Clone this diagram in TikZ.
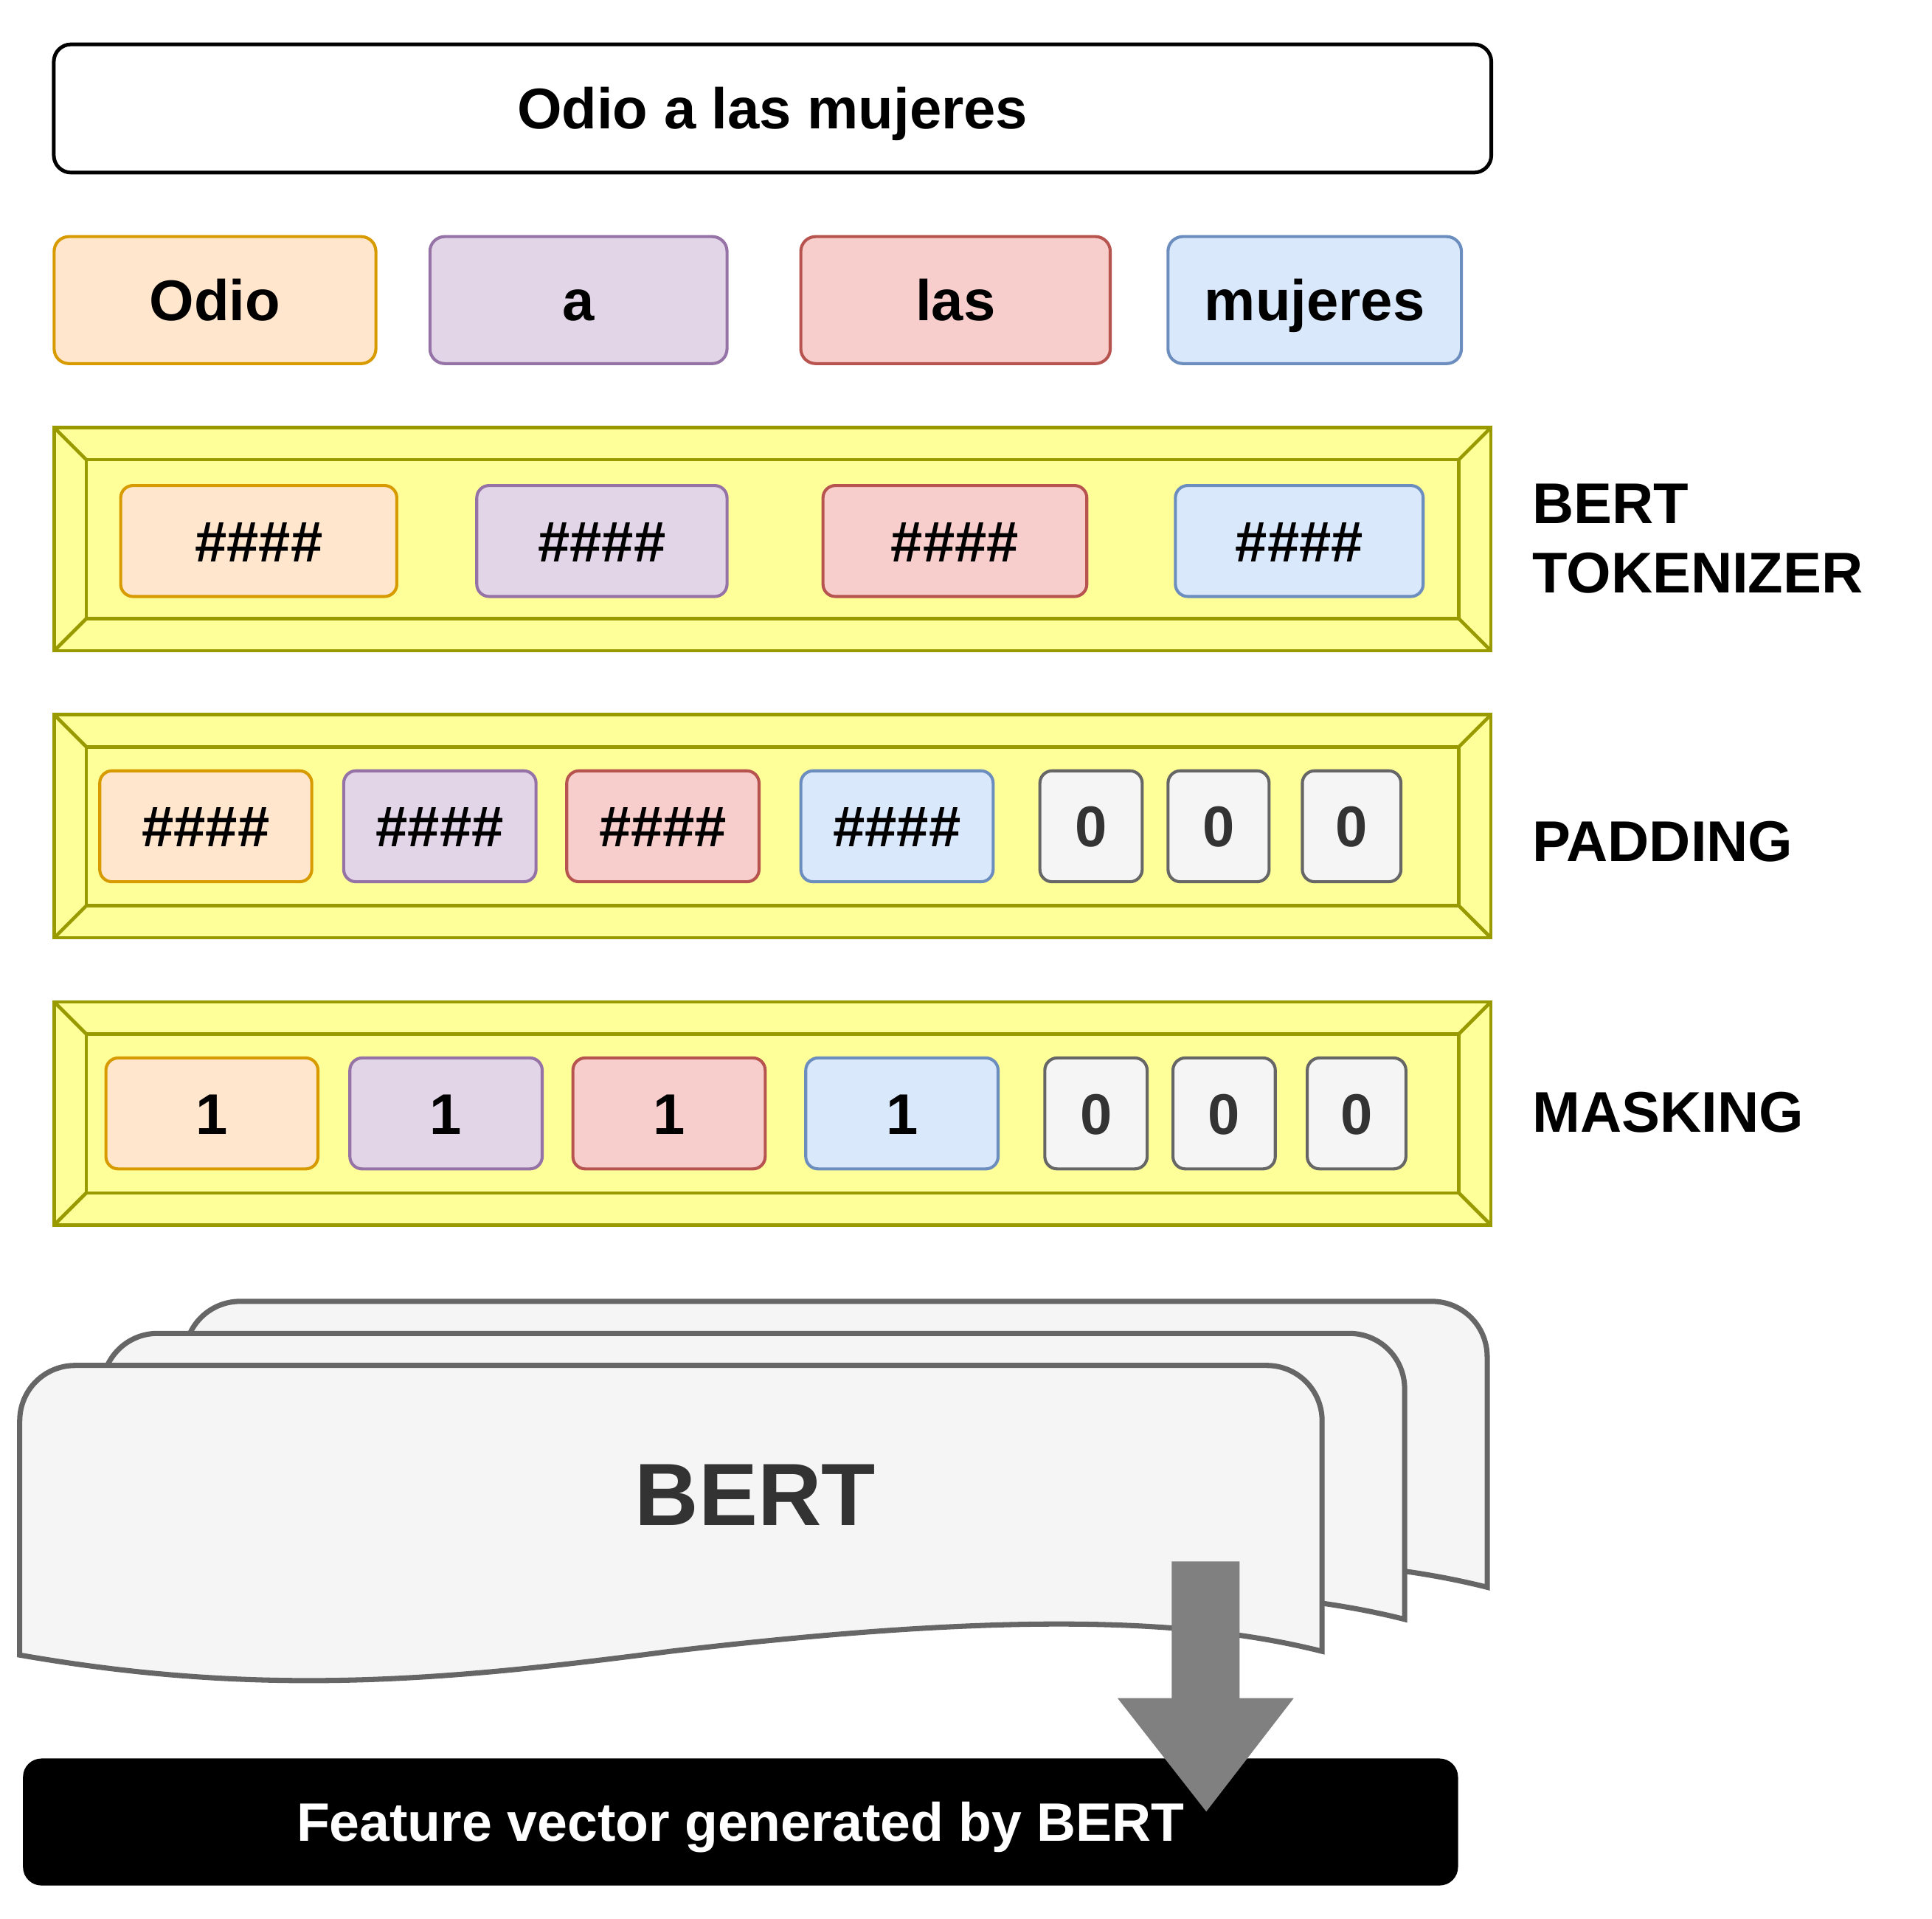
\documentclass[tikz,border=0pt]{standalone}
\usepackage{fontspec}
\setmainfont{Liberation Sans}
\usetikzlibrary{arrows.meta}

\definecolor{orgfill}{HTML}{FFE6CC}
\definecolor{orgline}{HTML}{D79B00}
\definecolor{purfill}{HTML}{E1D5E7}
\definecolor{purline}{HTML}{9673A6}
\definecolor{redfill}{HTML}{F8CECC}
\definecolor{redline}{HTML}{B85450}
\definecolor{blufill}{HTML}{DAE8FC}
\definecolor{bluline}{HTML}{6C8EBF}
\definecolor{gryfill}{HTML}{F5F5F5}
\definecolor{gryline}{HTML}{666666}
\definecolor{grytext}{HTML}{333333}
\definecolor{yelfill}{HTML}{FFFF99}
\definecolor{yelline}{HTML}{999900}
\definecolor{arrgray}{HTML}{808080}

\newcommand{\labfont}{\bfseries\fontsize{13.25}{15.9}\selectfont}

\tikzset{
  orgbox/.style={fill=orgfill, draw=orgline},
  purbox/.style={fill=purfill, draw=purline},
  redbox/.style={fill=redfill, draw=redline},
  blubox/.style={fill=blufill, draw=bluline},
  grybox/.style={fill=gryfill, draw=gryline, text=grytext},
  frame/.style={draw=yelline, line width=0.8pt},
  doc/.style={fill=gryfill, draw=gryline, line width=1.2pt}
}

\begin{document}
\begin{tikzpicture}[x=0.01cm, y=-0.01cm]
\useasboundingbox (0,0) rectangle (1568,1557.2);

\node (S) [draw=black, line width=0.85pt, rounded corners=0.14cm, minimum width=11.66cm,
           minimum height=1.04cm, font=\labfont, text height=9.5pt, text depth=0pt] at (627,88) {Odio a las mujeres};

% words
\begin{scope}[every node/.style={line width=0.7pt, rounded corners=0.12cm, minimum height=1.03cm,
              font=\labfont, text height=9.5pt, text depth=0pt}]
    \node (W1) [orgbox, minimum width=2.61cm] at (174.5,243.5) {Odio};
    \node (W2) [purbox, minimum width=2.41cm] at (469.5,243.5) {a};
    \node (W3) [redbox, minimum width=2.51cm] at (775.5,243.5) {las};
    \node (W4) [blubox, minimum width=2.38cm] at (1067,243.5) {mujeres};
\end{scope}

% bevelled frames
\foreach \t in {347,580,813} {
    \draw[frame, fill=yelfill] (44,\t) rectangle (1210,\t+181);
    \draw[frame] (70,\t+26) rectangle (1184,\t+155);
    \draw[frame] (44,\t) -- (70,\t+26) (1210,\t) -- (1184,\t+26)
                 (44,\t+181) -- (70,\t+155) (1210,\t+181) -- (1184,\t+155);
}

\begin{scope}[every node/.style={line width=0.7pt, rounded corners=0.1cm, minimum height=0.9cm,
              font=\labfont, text height=9.5pt, text depth=0pt}]
    % tokenizer
    \node (T1) [orgbox, minimum width=2.24cm] at (210,439) {\#\#\#\#};
    \node (T2) [purbox, minimum width=2.03cm] at (488.5,439) {\#\#\#\#};
    \node (T3) [redbox, minimum width=2.14cm] at (775,439) {\#\#\#\#};
    \node (T4) [blubox, minimum width=2.01cm] at (1054.5,439) {\#\#\#\#};
    % padding
    \node (P1) [orgbox, minimum width=1.72cm] at (167,670.5) {\#\#\#\#};
    \node (P2) [purbox, minimum width=1.56cm] at (357,670.5) {\#\#\#\#};
    \node (P3) [redbox, minimum width=1.56cm] at (538,670.5) {\#\#\#\#};
    \node (P4) [blubox, minimum width=1.56cm] at (728,670.5) {\#\#\#\#};
    \node (P5) [grybox, minimum width=0.83cm] at (885.5,670.5) {0};
    \node (P6) [grybox, minimum width=0.82cm] at (989,670.5) {0};
    \node (P7) [grybox, minimum width=0.80cm] at (1097,670.5) {0};
    % masking
    \node (M1) [orgbox, minimum width=1.72cm] at (172,903.5) {1};
    \node (M2) [purbox, minimum width=1.56cm] at (362,903.5) {1};
    \node (M3) [redbox, minimum width=1.56cm] at (543,903.5) {1};
    \node (M4) [blubox, minimum width=1.56cm] at (732,903.5) {1};
    \node (M5) [grybox, minimum width=0.83cm] at (889.5,903.5) {0};
    \node (M6) [grybox, minimum width=0.83cm] at (993.5,903.5) {0};
    \node (M7) [grybox, minimum width=0.80cm] at (1101,903.5) {0};
\end{scope}

% row labels
\begin{scope}[every node/.style={anchor=west, inner sep=0pt, font=\labfont, align=left}]
    \node (LT) at (1243,437) {BERT\\TOKENIZER};
    \node (LP) [text height=9.5pt, text depth=0pt] at (1243,682) {PADDING};
    \node (LM) [text height=9.5pt, text depth=0pt] at (1243,902) {MASKING};
\end{scope}

% stacked BERT layers
\foreach \i in {2,1,0} {
    \draw[doc, shift={(16+67*\i,1108-26*\i)}]
        (0,235) -- (0,45) .. controls (0,20) and (20,0) .. (45,0) -- (1012,0)
        .. controls (1037,0) and (1057,20) .. (1057,45) -- (1057,232)
        .. controls (950,205) and (800,200) .. (528,232)
        .. controls (350,255) and (200,270) .. (0,235) -- cycle;
}
\node (B) [font=\bfseries\fontsize{20.4}{24}\selectfont, text=grytext] at (613,1213) {BERT};

\node (F) [fill=black, rounded corners=0.15cm, minimum width=11.64cm, minimum height=1.03cm,
           text=white, font=\bfseries\fontsize{12.5}{15}\selectfont, text height=9pt, text depth=0pt]
          at (601,1478.5) {Feature vector generated by BERT};

% block arrow
\coordinate (AT) at (979,1267);
\coordinate (AH) at (979,1470);
\fill[arrgray] (AT) ++(-28,0) -- ++(55,0) -- (1006,1378) -- (1050,1378) -- (AH)
               -- (907,1378) -- (951,1378) -- cycle;
\end{tikzpicture}
\end{document}
